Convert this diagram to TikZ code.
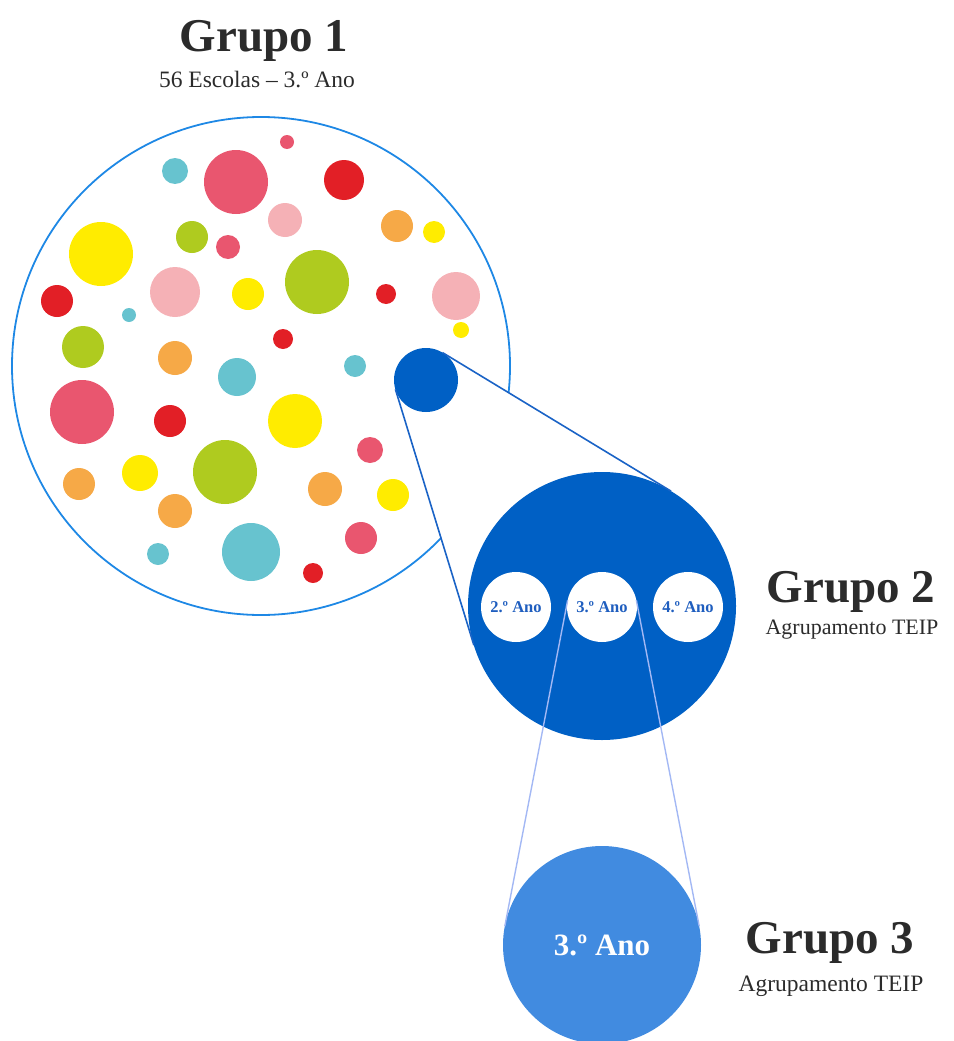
\documentclass[tikz,border=0pt]{standalone}
\usepackage{fontspec}
\setmainfont{Liberation Serif}
\definecolor{cPink}{HTML}{E9566F}
\definecolor{cCyan}{HTML}{67C3CF}
\definecolor{cRed}{HTML}{E21F26}
\definecolor{cRose}{HTML}{F5B1B6}
\definecolor{cOrange}{HTML}{F6A947}
\definecolor{cYellow}{HTML}{FFEC00}
\definecolor{cGreen}{HTML}{AFCB1F}
\definecolor{cBlue}{HTML}{0060C5}
\definecolor{cSky}{HTML}{418BE0}
\definecolor{cRing}{HTML}{1E88E5}
\definecolor{cCone}{HTML}{1A63C6}
\definecolor{cThin}{HTML}{A3B8F4}
\definecolor{cTitle}{HTML}{2B2B2B}
\definecolor{cLabel}{HTML}{1F5EBF}
\pgfdeclarelayer{back}
\pgfdeclarelayer{mid}
\pgfsetlayers{back,mid,main}
\begin{document}
\begin{tikzpicture}[x=1pt,y=-1pt,
  dot/.style={circle,inner sep=0pt,outer sep=0pt,minimum size=#1},
  title/.style={inner sep=0pt,anchor=base,text=cTitle,font=\fontsize{47}{50}\selectfont\bfseries},
  subtitle/.style={inner sep=0pt,anchor=base,text=cTitle,font=\fontsize{22}{26}\selectfont},
  yearbox/.style={dot=70pt,fill=white,text=cLabel,font=\fontsize{16.5}{18}\selectfont\bfseries},
  coneline/.style={draw=cCone,line width=1.6pt},
  thinline/.style={draw=cThin,line width=1.4pt}]
\useasboundingbox (0,0) rectangle (953,1041);

% titles
\node[title] (t1) at (264,52) {Grupo 1};
\node[subtitle,font=\fontsize{23.5}{27}\selectfont] (s1) at (257,88) {56 Escolas – 3.º Ano};
\node[title] (t2) at (851,602) {Grupo 2};
\node[subtitle] (s2) at (852,634) {Agrupamento TEIP};
\node[title] (t3) at (830,953) {Grupo 3};
\node[subtitle,font=\fontsize{23.5}{27}\selectfont] (s3) at (831,991) {Agrupamento TEIP};

% group 1 ring
\begin{pgfonlayer}{back}
\node[dot=498pt,draw=cRing,line width=1.8pt] (g1) at (261,366) {};
\end{pgfonlayer}

% the schools
\foreach \x/\y/\r/\c [count=\i] in {
  287/142/7/cPink, 175/171/13/cCyan, 236/182/32/cPink, 344/180/20/cRed,
  285/220/17/cRose, 397/226/16/cOrange, 434/232/11/cYellow, 101/254/32/cYellow,
  192/237/16/cGreen, 228/247/12/cPink, 175/292/25/cRose, 248/294/16/cYellow,
  317/282/32/cGreen, 386/294/10/cRed, 456/296/24/cRose, 461/330/8/cYellow,
  57/301/16/cRed, 129/315/7/cCyan, 83/347/21/cGreen, 175/358/17/cOrange,
  283/339/10/cRed, 237/377/19/cCyan, 355/366/11/cCyan, 82/412/32/cPink,
  170/421/16/cRed, 295/421/27/cYellow, 370/450/13/cPink, 79/484/16/cOrange,
  140/473/18/cYellow, 225/472/32/cGreen, 325/489/17/cOrange, 393/495/16/cYellow,
  175/511/17/cOrange, 158/554/11/cCyan, 251/552/29/cCyan, 361/538/16/cPink,
  313/573/10/cRed}
  \node[dot={2*\r*1pt},fill=\c] (d\i) at (\x,\y) {};

% the TEIP school and its zoom
\node[dot=64pt,fill=cBlue] (src) at (426,380) {};
\node[dot=268pt,fill=cBlue] (g2) at (602,606) {};
\begin{pgfonlayer}{mid}
\fill[white] (src.197) -- (g2.197) -- (g2.59) -- (src.59) -- cycle;
\end{pgfonlayer}
\draw[coneline] (src.197) -- (g2.197);
\draw[coneline] (src.59) -- (g2.59);

% years
\node[yearbox] (y2) at (516,607) {2.º Ano};
\node[yearbox] (y3) at (602,607) {3.º Ano};
\node[yearbox] (y4) at (688,607) {4.º Ano};

% group 3
\node[dot=198pt,fill=cSky,text=white,font=\fontsize{31}{34}\selectfont\bfseries] (g3) at (602,945) {3.º Ano};
\draw[thinline] (y3.169) -- (g3.169);
\draw[thinline] (y3.11) -- (g3.11);
\end{tikzpicture}
\end{document}
